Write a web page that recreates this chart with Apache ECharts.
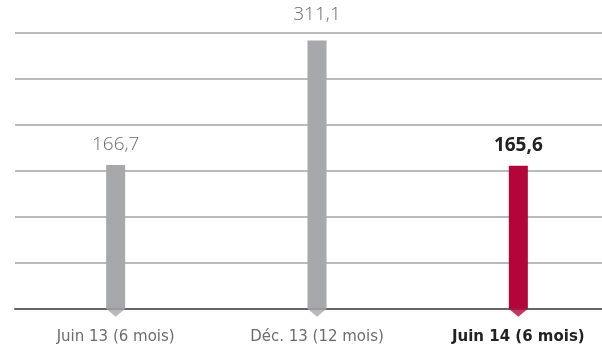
<!DOCTYPE html>
<html>
<head>
<meta charset="utf-8">
<script src="https://cdn.jsdelivr.net/npm/echarts@6/dist/echarts.min.js"></script>
<style>
html,body{margin:0;padding:0;background:#fff;overflow:hidden;width:602px;height:349px;}
#chart{width:619px;height:349px;}
</style>
</head>
<body>
<div id="chart"></div>
<script>
var categories = ['Juin 13 (6 mois)', 'Déc. 13 (12 mois)', 'Juin 14 (6 mois)'];
var values = [166.7, 311.1, 165.6];
var valueLabels = ['166,7', '311,1', '165,6'];
var highlightIndex = 2;

var GRAY = '#a7a8ab';
var RED = '#b2063b';
var FONT = '"Open Sans", sans-serif';
var CAT_FONT = '"DejaVu Sans", sans-serif';

var chart = echarts.init(document.getElementById('chart'), null, {renderer: 'canvas'});

var barData = values.map(function (v, i) {
  var hi = i === highlightIndex;
  return {
    value: v,
    itemStyle: {color: hi ? RED : GRAY},
    label: {
      formatter: valueLabels[i],
      color: hi ? '#222222' : '#6d6d6d',
      fontWeight: hi ? 'bold' : 300,
      distance: v > 300 ? 16 : 11
    }
  };
});

var tipData = values.map(function (v, i) {
  return {value: 0, itemStyle: {color: i === highlightIndex ? RED : GRAY}};
});

chart.setOption({
  animation: false,
  grid: {left: 15, top: 32.7, right: 0, height: 276, containLabel: false},
  xAxis: {
    type: 'category',
    data: categories,
    axisLine: {show: true, lineStyle: {color: '#666666', width: 2}},
    axisTick: {show: false},
    axisLabel: {
      margin: 21,
      fontFamily: CAT_FONT,
      fontSize: 15,
      color: '#6d6d6d',
      formatter: function (val, idx) {
        return idx === highlightIndex ? '{b|' + val + '}' : val;
      },
      rich: {
        b: {fontFamily: CAT_FONT, fontSize: 15, fontWeight: 'bold', color: '#222222'}
      }
    }
  },
  yAxis: {
    type: 'value',
    min: 0,
    max: 320,
    interval: 320 / 6,
    axisLine: {show: false},
    axisTick: {show: false},
    axisLabel: {show: false},
    splitLine: {show: true, lineStyle: {color: '#a3a3a3', width: 1.5}}
  },
  series: [
    {
      type: 'bar',
      data: barData,
      barWidth: 19,
      z: 3,
      label: {
        show: true,
        position: 'top',
        fontFamily: FONT,
        fontSize: 19
      }
    },
    {
      type: 'scatter',
      data: tipData,
      symbol: 'triangle',
      symbolRotate: 180,
      symbolSize: [19, 8],
      symbolOffset: [0, 4],
      z: 4,
      silent: true
    }
  ]
});
</script>
</body>
</html>
